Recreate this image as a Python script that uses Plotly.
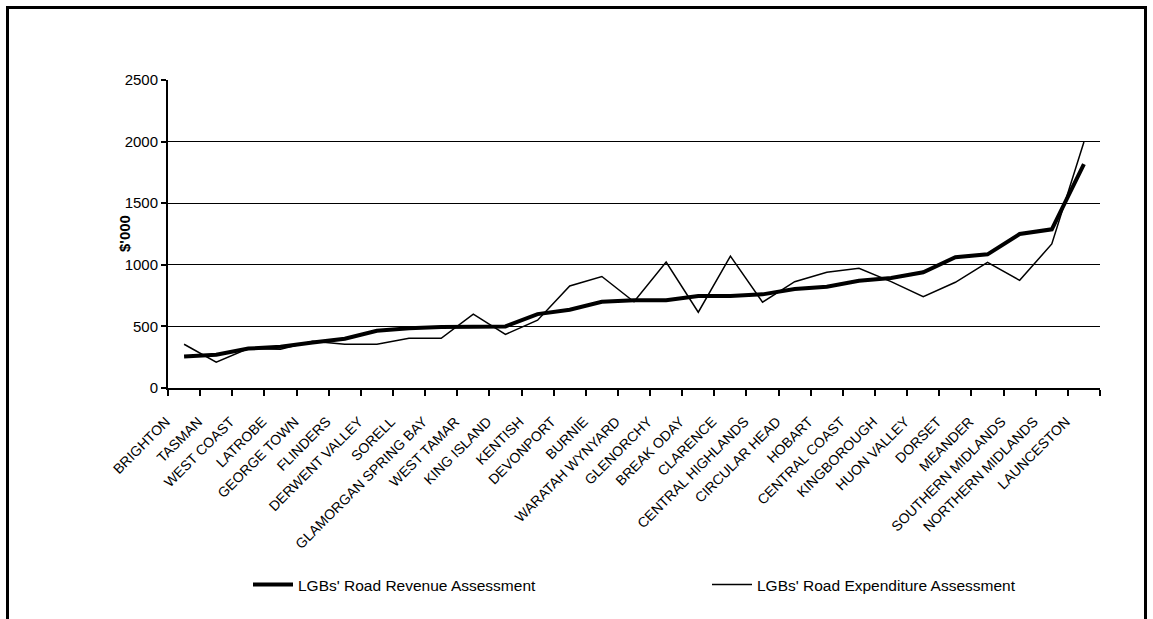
import plotly.graph_objects as go

# Councils, ordered by road revenue assessment
councils = [
    "BRIGHTON", "TASMAN", "WEST COAST", "LATROBE", "GEORGE TOWN", "FLINDERS",
    "DERWENT VALLEY", "SORELL", "GLAMORGAN SPRING BAY", "WEST TAMAR",
    "KING ISLAND", "KENTISH", "DEVONPORT", "BURNIE", "WARATAH WYNYARD",
    "GLENORCHY", "BREAK ODAY", "CLARENCE", "CENTRAL HIGHLANDS",
    "CIRCULAR HEAD", "HOBART", "CENTRAL COAST", "KINGBOROUGH", "HUON VALLEY",
    "DORSET", "MEANDER", "SOUTHERN MIDLANDS", "NORTHERN MIDLANDS", "LAUNCESTON",
]

# $'000
revenue = [
    255, 270, 320, 335, 370, 400, 465, 485, 495, 500,
    500, 600, 635, 700, 712, 712, 747, 747, 760, 803,
    822, 871, 893, 939, 1061, 1085, 1250, 1288, 1818,
]
expenditure = [
    355, 210, 320, 315, 380, 355, 355, 403, 403, 600,
    435, 550, 828, 905, 700, 1022, 615, 1070, 697, 863,
    939, 971, 863, 741, 858, 1020, 874, 1169, 1997,
]

y_ticks = [0, 500, 1000, 1500, 2000, 2500]

W, H = 1153, 619
ML, MR, MT, MB = 168, 53, 80, 231
PW, PH = W - ML - MR, H - MT - MB


def px_x(x):
    return (x - ML) / PW


def px_y(y):
    return (H - MB - y) / PH


FONT = "Liberation Sans, Arial, sans-serif"

fig = go.Figure()
fig.add_trace(go.Scatter(
    x=councils, y=revenue, mode="lines",
    name="LGBs' Road Revenue Assessment",
    line=dict(color="black", width=4),
    legend="legend",
))
fig.add_trace(go.Scatter(
    x=councils, y=expenditure, mode="lines",
    name="LGBs' Road Expenditure Assessment",
    line=dict(color="black", width=1.5),
    legend="legend2",
))

legend_style = dict(
    orientation="h", xanchor="left", yanchor="middle",
    font=dict(size=15.5), bgcolor="rgba(0,0,0,0)", borderwidth=0,
    itemwidth=40,
)

fig.update_layout(
    width=W, height=H,
    margin=dict(l=ML, r=MR, t=MT, b=MB, pad=0),
    paper_bgcolor="white", plot_bgcolor="white",
    font=dict(family=FONT, size=15, color="black"),
    showlegend=True,
    legend=dict(x=px_x(248), y=px_y(585), **legend_style),
    legend2=dict(x=px_x(707), y=px_y(585), **legend_style),
    shapes=[dict(
        type="rect", xref="paper", yref="paper",
        x0=px_x(7.5), x1=px_x(1145.5), y0=px_y(640), y1=px_y(7.5),
        line=dict(color="black", width=3), fillcolor="rgba(0,0,0,0)",
    )],
    annotations=[dict(
        text="<b>$'000</b>", xref="paper", yref="paper",
        x=px_x(124), y=px_y(234), textangle=-90, showarrow=False,
        xanchor="center", yanchor="middle", font=dict(size=15),
    )],
)

fig.update_xaxes(
    type="category", range=[-0.5, len(councils) - 0.5],
    showgrid=False, zeroline=False,
    showline=True, linecolor="black", linewidth=2,
    ticks="outside", tickson="boundaries", ticklen=6, tickwidth=1.5,
    tickcolor="black",
    tickangle=-45,
    tickfont=dict(family="Liberation Sans Narrow, Arial Narrow, " + FONT, size=14),
    ticklabelshift=-18, ticklabelstandoff=18,
)
fig.update_yaxes(
    range=[0, 2500], tickvals=y_ticks,
    showgrid=True, gridcolor="black", gridwidth=1,
    zeroline=False,
    showline=True, linecolor="black", linewidth=2,
    ticks="outside", ticklen=5, tickwidth=1.5, tickcolor="black",
    tickfont=dict(size=15),
)

fig.write_html("out.html")
